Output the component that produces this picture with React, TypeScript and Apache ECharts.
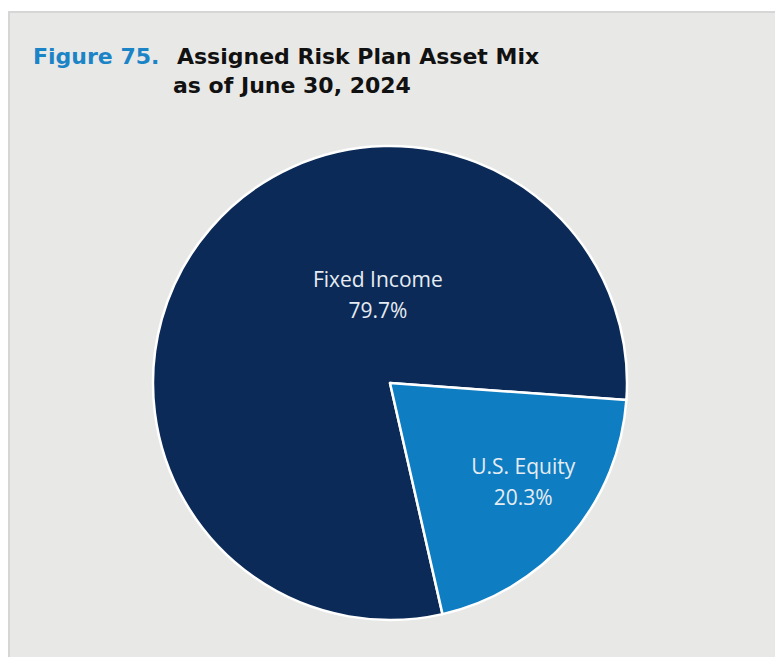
import React, { useEffect, useRef } from "react";
import * as echarts from "echarts";

const categories: string[] = ["Fixed Income", "U.S. Equity"];
const shares: number[] = [79.7, 20.3];
const sliceColors: string[] = ["#0b2a57", "#0e7dc1"];
const figureLabel = "Figure 75.";
const titleLine1 = "Assigned Risk Plan Asset Mix";
const titleLine2 = "as of June 30, 2024";
const labelShifts: number[][] = [
  [80, -9],
  [41, 19],
];

export default function App() {
  const ref = useRef<HTMLDivElement>(null);
  useEffect(() => {
    if (!ref.current) return;
    const chart = echarts.init(ref.current, null, { renderer: "svg" });
    const titleFont = {
      fontFamily: "DejaVu Sans",
      fontWeight: "bold" as const,
      fontSize: 22,
    };
    chart.setOption({
      animation: false,
      backgroundColor: "#ffffff",
      graphic: [
        {
          type: "rect",
          z: -10,
          silent: true,
          shape: { x: 9, y: 12, width: 800, height: 700 },
          style: { fill: "#e8e8e6", stroke: "#d6d6d6", lineWidth: 2 },
        },
        {
          type: "text",
          x: 33,
          y: 56,
          style: {
            text: figureLabel,
            fill: "#1a84c6",
            ...titleFont,
            verticalAlign: "middle",
            align: "left",
          },
        },
        {
          type: "text",
          x: 177,
          y: 56,
          style: {
            text: titleLine1,
            fill: "#111111",
            ...titleFont,
            verticalAlign: "middle",
            align: "left",
          },
        },
        {
          type: "text",
          x: 173,
          y: 85,
          style: {
            text: titleLine2,
            fill: "#111111",
            ...titleFont,
            verticalAlign: "middle",
            align: "left",
          },
        },
      ],
      series: [
        {
          type: "pie",
          center: [390, 383],
          radius: 237,
          startAngle: -77.2,
          clockwise: true,
          avoidLabelOverlap: false,
          itemStyle: { borderColor: "#ffffff", borderWidth: 2.5 },
          label: {
            show: true,
            position: "inside",
            formatter: (p: any) => `${p.name}\n${p.value.toFixed(1)}%`,
            color: "#e6ecf2",
            fontFamily: "Open Sans",
            fontSize: 21,
            lineHeight: 31,
            align: "center",
          },
          labelLine: { show: false },
          labelLayout: (p: any) => ({
            dx: labelShifts[p.dataIndex][0],
            dy: labelShifts[p.dataIndex][1],
          }),
          emphasis: { disabled: true },
          data: categories.map((name, i) => ({
            name,
            value: shares[i],
            itemStyle: { color: sliceColors[i] },
          })),
        },
      ],
    });
    return () => chart.dispose();
  }, []);
  return (
    <div
      ref={ref}
      style={{ position: "fixed", left: 0, top: 0, width: 775, height: 657 }}
    />
  );
}
